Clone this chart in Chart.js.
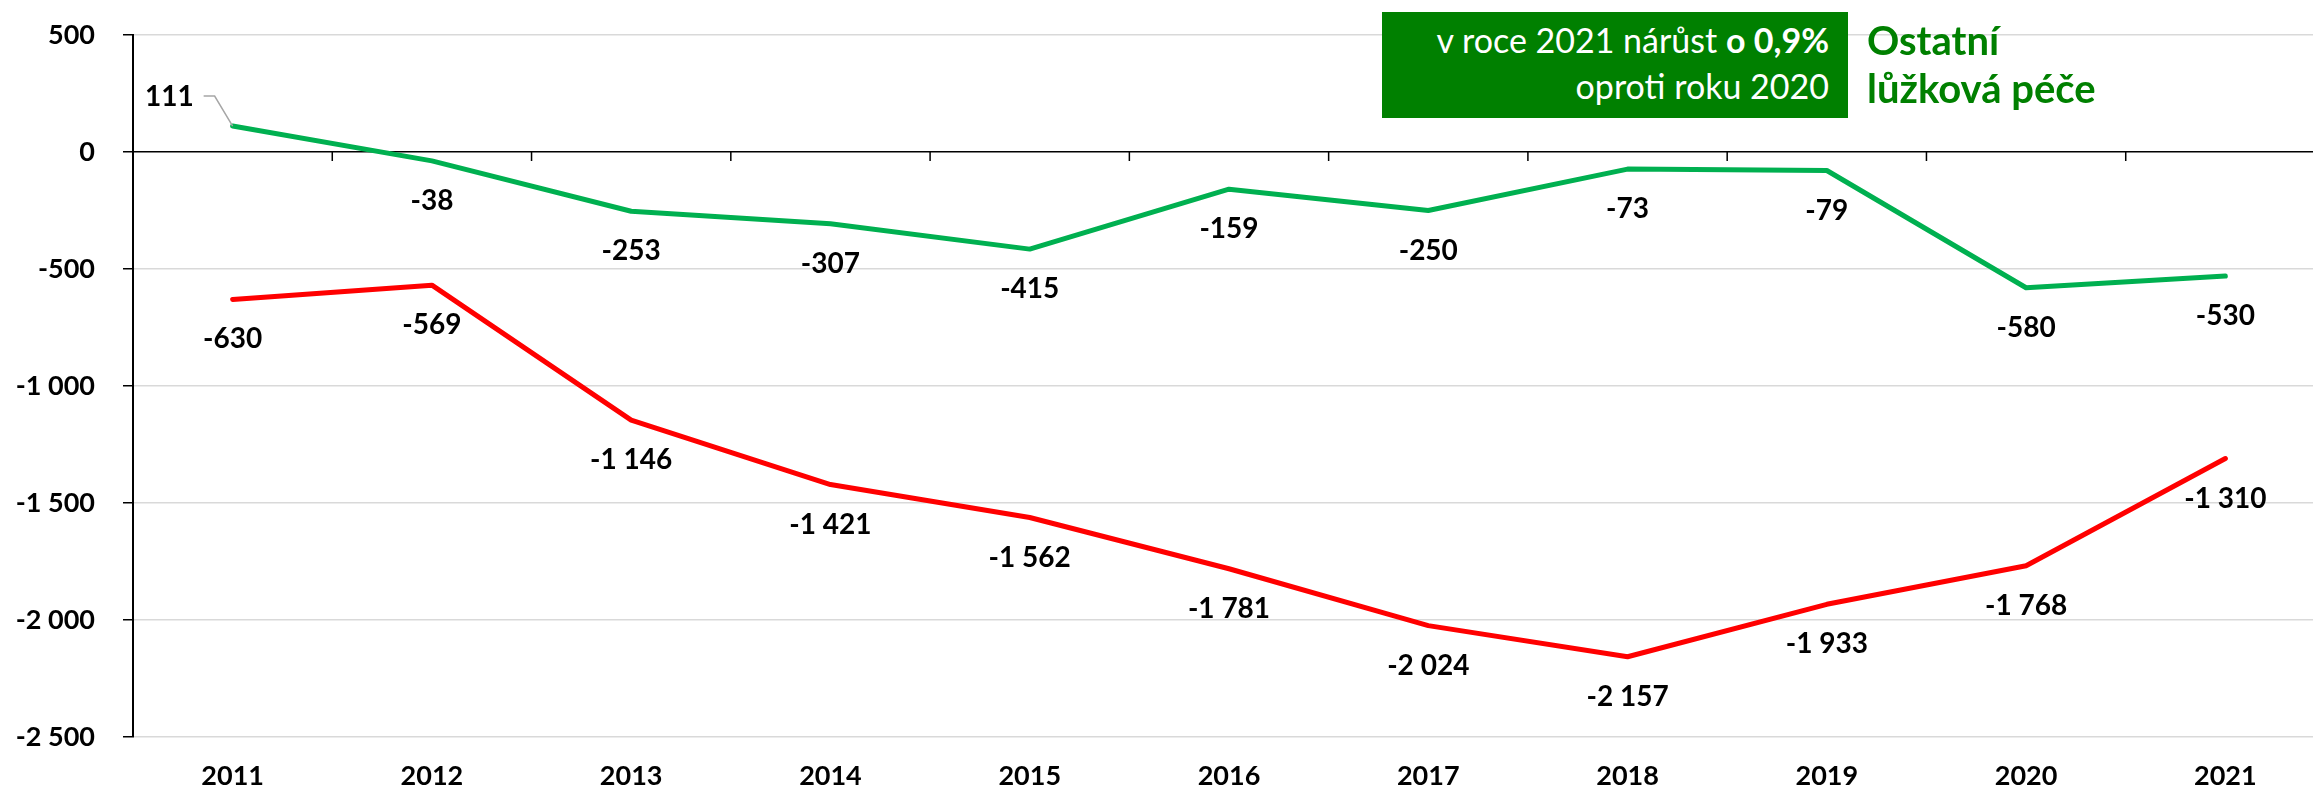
<!DOCTYPE html>
<html>
<head>
<meta charset="utf-8">
<script src="https://cdn.jsdelivr.net/npm/chart.js@4/dist/chart.umd.min.js"></script>
<style>
  html, body { margin: 0; padding: 0; background: #fff; overflow: hidden; }
  #wrap { position: relative; width: 2330px; height: 791px; }
  #note {
    position: absolute; left: 1382px; top: 12px; width: 466px; height: 106px;
    background: #008000; color: #fff; font-family: "Lato", sans-serif;
    font-size: 34px; line-height: 46px; text-align: right; white-space: nowrap;
    box-sizing: border-box; padding: 5px 19px 0 0;
  }
  #title {
    position: absolute; left: 1867px; top: 16px; color: #008000; white-space: nowrap;
    font-family: "Lato", sans-serif; font-weight: bold; font-size: 40px; line-height: 48px;
  }
</style>
</head>
<body>
<div id="wrap">
  <canvas id="chart"></canvas>
  <div id="note">v roce 2021 nárůst <b>o 0,9%</b><br>oproti roku 2020</div>
  <div id="title">Ostatní<br>lůžková péče</div>
</div>
<script>
const years = ["2011", "2012", "2013", "2014", "2015", "2016", "2017", "2018", "2019", "2020", "2021"];
const ostatni = [111, -38, -253, -307, -415, -159, -250, -73, -79, -580, -530];
const akutni = [-630, -569, -1146, -1421, -1562, -1781, -2024, -2157, -1933, -1768, -1310];

const AXIS_FONT = { family: "Lato", weight: "bold", size: 27 };

function fmt(v) {
  const s = String(Math.abs(v)).replace(/\B(?=(\d{3})+(?!\d))/g, " ");
  return (v < 0 ? "-" : "") + s;
}

// value labels under points, the first green one with a leader line
const labelPlugin = {
  id: "labels",
  afterDatasetsDraw(chart) {
    const c = chart.ctx;
    c.save();
    c.font = "bold 28px Lato";
    c.fillStyle = "#000";
    c.textAlign = "center";
    c.textBaseline = "middle";
    chart.data.datasets.forEach((ds, di) => {
      chart.getDatasetMeta(di).data.forEach((pt, i) => {
        const v = ds.data[i];
        if (di === 0 && i === 0) {
          c.strokeStyle = "#a6a6a6";
          c.lineWidth = 1.5;
          c.beginPath();
          c.moveTo(pt.x, pt.y);
          c.lineTo(pt.x - 18, pt.y - 30);
          c.lineTo(pt.x - 29, pt.y - 30);
          c.stroke();
          c.textAlign = "right";
          c.fillText(fmt(v), pt.x - 39, pt.y - 29);
          c.textAlign = "center";
        } else {
          c.fillText(fmt(v), pt.x, pt.y + 40);
        }
      });
    });
    c.restore();
  }
};

// tick marks hanging from the zero line between categories
const zeroTicks = {
  id: "zeroTicks",
  beforeDatasetsDraw(chart) {
    const c = chart.ctx, x = chart.scales.x, y = chart.scales.y;
    const y0 = y.getPixelForValue(0);
    c.save();
    c.strokeStyle = "#000";
    c.lineWidth = 1.5;
    c.beginPath();
    for (let i = 1; i < years.length; i++) {
      const px = (x.getPixelForValue(i - 1) + x.getPixelForValue(i)) / 2;
      c.moveTo(px, y0);
      c.lineTo(px, y0 + 9);
    }
    c.stroke();
    c.restore();
  }
};

new Chart(document.getElementById("chart"), {
  type: "line",
  data: {
    labels: years,
    datasets: [
      { label: "Ostatní lůžková péče", data: ostatni, borderColor: "#00b050", borderWidth: 5, pointRadius: 0, borderJoinStyle: "round", borderCapStyle: "round" },
      { label: "Akutní lůžková péče", data: akutni, borderColor: "#ff0000", borderWidth: 5, pointRadius: 0, borderJoinStyle: "round", borderCapStyle: "round" }
    ]
  },
  options: {
    responsive: true,
    maintainAspectRatio: false,
    animation: false,
    events: [],
    layout: { padding: { top: 20, right: 5, left: 0, bottom: 0 } },
    plugins: { legend: { display: false }, tooltip: { enabled: false } },
    scales: {
      x: {
        offset: true,
        grid: { display: false, drawTicks: false },
        border: { display: false },
        ticks: { color: "#000", font: AXIS_FONT, padding: 23, maxRotation: 0 },
        afterFit(s) { s.height = 54; }
      },
      y: {
        min: -2500,
        max: 500,
        grid: {
          color: (ctx) => (ctx.tick && ctx.tick.value === 0 ? "#000" : "#d9d9d9"),
          lineWidth: 1.5,
          tickColor: "#000",
          tickLength: 10
        },
        border: { color: "#000", width: 2 },
        ticks: {
          stepSize: 500, color: "#000", padding: 28,
          font: { family: "Lato", weight: "bold", size: 27, lineHeight: 0.52 },
          callback: (v) => fmt(v)
        },
        afterFit(s) { s.width = 133; }
      }
    }
  },
  plugins: [zeroTicks, labelPlugin]
});
</script>
</body>
</html>
